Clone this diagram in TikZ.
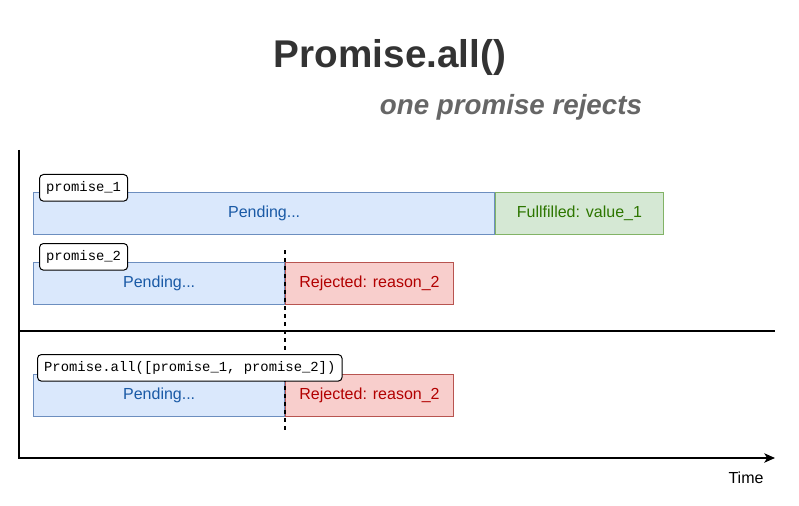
\documentclass[tikz,border=0pt]{standalone}
\usepackage{fontspec}
\setmainfont{Liberation Sans}
\setmonofont{Liberation Mono}
\usepackage{xcolor}
\usetikzlibrary{positioning,arrows.meta}

\definecolor{pendfill}{HTML}{DAE8FC}
\definecolor{pendline}{HTML}{6C8EBF}
\definecolor{pendtext}{HTML}{1A5AA6}
\definecolor{fulfill}{HTML}{D5E8D4}
\definecolor{fulline}{HTML}{82B366}
\definecolor{fultext}{HTML}{2D7600}
\definecolor{rejfill}{HTML}{F8CECC}
\definecolor{rejline}{HTML}{B85450}
\definecolor{rejtext}{HTML}{B20000}
\definecolor{titlegray}{HTML}{333333}
\definecolor{subgray}{HTML}{666666}

\begin{document}
\begin{tikzpicture}[
		x=0.75pt, y=-0.75pt,
		every node/.style={font=\fontsize{12}{14}\selectfont},
		statebox/.style={draw, line width=0.75pt, minimum height=31.5pt, inner sep=0pt, anchor=north west},
		pending/.style={statebox, fill=pendfill, draw=pendline, text=pendtext},
		fulfilled/.style={statebox, fill=fulfill, draw=fulline, text=fultext, minimum width=125.5pt},
		rejected/.style={statebox, fill=rejfill, draw=rejline, text=rejtext, minimum width=125.5pt},
		tag/.style={draw, fill=white, rounded corners=3pt, line width=0.75pt, inner xsep=5pt,
				minimum height=20pt, anchor=north west, font=\ttfamily\fontsize{10.4}{12}\selectfont},
		axis/.style={line width=1pt}
	]

	\useasboundingbox (0,0) rectangle (799,506);

	% titles
	\node[font=\bfseries\fontsize{29}{34}\selectfont, text=titlegray] (title) at (390,58) {Promise.all()};
	\node[font=\bfseries\itshape\fontsize{20.8}{24}\selectfont, text=subgray] (subtitle) at (511,107) {one promise rejects};

	% axes
	\coordinate (ytop) at (19,150);
	\coordinate (xend) at (775,458);
	\coordinate (sepleft) at (19,331);
	\coordinate (sepright) at (775,331);
	\draw[axis, -{Stealth[length=8pt, width=7pt, inset=2pt]}] (ytop) |- (xend);
	\draw[axis] (sepleft) -- (sepright);
	\node (time) at (746,478) {Time};

	% promise_1
	\node[pending, minimum width=346pt] (pend1) at (33,192) {Pending...};
	\node[fulfilled, right=0pt of pend1] (ful1) {Fullfilled: value\_1};

	% promise_2
	\node[pending, minimum width=188.5pt] (pend2) at (33,262) {Pending...};
	\node[rejected, right=0pt of pend2] (rej2) {Rejected: reason\_2};

	% Promise.all
	\node[pending, minimum width=188.5pt] (pendall) at (33,374) {Pending...};
	\node[rejected, right=0pt of pendall] (rejall) {Rejected: reason\_2};

	% moment of rejection
	\coordinate (cuttop) at (285,250);
	\coordinate (cutbot) at (285,431);
	\draw[dashed, line width=1pt] (cuttop) -- (cutbot);

	% labels
	\node[tag] (tag1) at (39,174) {promise\_1};
	\node[tag] (tag2) at (39,243) {promise\_2};
	\node[tag] (tagall) at (37,354) {Promise.all([promise\_1, promise\_2])};

\end{tikzpicture}
\end{document}
